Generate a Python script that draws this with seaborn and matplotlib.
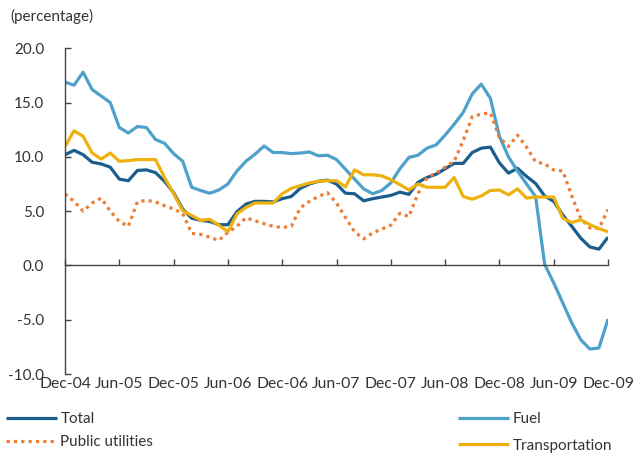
import numpy as np
import pandas as pd
import matplotlib
matplotlib.use("Agg")
import matplotlib.pyplot as plt
import seaborn as sns

# ---------------- data ----------------
tick_labels = ["Dec-04", "Jun-05", "Dec-05", "Jun-06", "Dec-06", "Jun-07",
               "Dec-07", "Jun-08", "Dec-08", "Jun-09", "Dec-09"]
months = list(range(61))  # Dec-04 .. Dec-09, monthly

total = [10.2, 10.6, 10.2, 9.5, 9.35, 9.05, 7.95, 7.8, 8.75, 8.8, 8.55, 7.75,
         6.7, 5.2, 4.35, 4.15, 4.05, 3.75, 3.75, 4.95, 5.65, 5.9, 5.9, 5.85,
         6.15, 6.35, 7.1, 7.5, 7.75, 7.85, 7.5, 6.65, 6.6, 5.95, 6.15, 6.3,
         6.45, 6.75, 6.55, 7.65, 8.1, 8.4, 8.9, 9.4, 9.4, 10.4, 10.8, 10.9,
         9.45, 8.5, 8.95, 8.2, 7.55, 6.4, 5.9, 4.65, 3.6, 2.5, 1.7, 1.5, 2.6]

fuel = [16.9, 16.6, 17.8, 16.2, 15.6, 15.0, 12.7, 12.2, 12.8, 12.7, 11.6, 11.25,
        10.3, 9.6, 7.2, 6.9, 6.65, 6.95, 7.5, 8.7, 9.6, 10.25, 11.0, 10.4,
        10.4, 10.3, 10.35, 10.45, 10.1, 10.15, 9.75, 8.85, 7.95, 7.05, 6.6, 6.9,
        7.6, 8.9, 9.95, 10.15, 10.8, 11.1, 12.0, 13.0, 14.1, 15.8, 16.7, 15.4,
        11.9, 10.0, 8.7, 7.5, 6.35, 0.1, -1.6, -3.45, -5.3, -6.85, -7.7, -7.6, -4.95]

public_utilities = [6.6, 5.9, 5.0, 5.75, 6.2, 5.0, 4.05, 3.6, 5.85, 6.0, 5.85, 5.5,
                    5.2, 4.8, 2.95, 2.85, 2.6, 2.3, 3.05, 3.6, 4.4, 4.1, 3.85, 3.6,
                    3.5, 3.6, 5.3, 5.9, 6.35, 6.7, 5.75, 4.4, 3.1, 2.45, 3.0, 3.35,
                    3.7, 4.8, 4.5, 6.6, 8.1, 8.5, 9.05, 9.6, 11.5, 13.7, 13.95, 14.05,
                    11.8, 10.95, 12.0, 10.9, 9.55, 9.35, 8.8, 8.7, 6.4, 4.3, 3.45, 3.4, 5.15]

transportation = [10.95, 12.4, 11.9, 10.35, 9.8, 10.35, 9.6, 9.65, 9.75, 9.75, 9.75, 8.1,
                  6.6, 5.05, 4.6, 4.15, 4.25, 3.7, 3.1, 4.75, 5.35, 5.75, 5.75, 5.75,
                  6.6, 7.1, 7.35, 7.6, 7.75, 7.8, 7.8, 7.25, 8.8, 8.35, 8.35, 8.25,
                  7.9, 7.45, 6.95, 7.5, 7.2, 7.2, 7.2, 8.1, 6.35, 6.1, 6.4, 6.9,
                  6.95, 6.5, 7.05, 6.2, 6.3, 6.3, 6.3, 4.35, 3.95, 4.2, 3.75, 3.4, 3.1]

series_names = ["Total", "Fuel", "Public utilities", "Transportation"]
series_values = [total, fuel, public_utilities, transportation]
colors = {"Total": "#1b5e8e", "Fuel": "#4ea1c9",
          "Public utilities": "#ee7d33", "Transportation": "#eeb10d"}
styles = {"Total": "-", "Fuel": "-", "Public utilities": (0, (1, 1.3)),
          "Transportation": "-"}

df = pd.concat([pd.DataFrame({"month": months, "value": v, "series": n})
                for n, v in zip(series_names, series_values)], ignore_index=True)

# ---------------- style ----------------
sns.set_theme(style="white")
plt.rcParams["font.family"] = ["Lato", "DejaVu Sans"]
plt.rcParams["axes.unicode_minus"] = False
text_color = "#333333"
axis_color = "#444444"

fig = plt.figure(figsize=(6.35, 4.53), dpi=100)
ax = fig.add_axes([65 / 635, 1 - 374 / 453, (608 - 65) / 635, (374 - 48.3) / 453])

handles = {}
for name in series_names:
    sub = df[df["series"] == name]
    sns.lineplot(data=sub, x="month", y="value", ax=ax, color=colors[name],
                 linewidth=2.3, linestyle=styles[name], label=name, legend=False,
                 solid_capstyle="butt", dash_capstyle="butt")
    handles[name] = ax.lines[-1]

ax.set_xlim(0, 60)
ax.set_ylim(-10, 20)
ax.set_xlabel("")
ax.set_ylabel("")

ax.set_yticks([-10, -5, 0, 5, 10, 15, 20])
ax.set_yticklabels(["-10.0", "-5.0", "0.0", "5.0", "10.0", "15.0", "20.0"])
ax.set_xticks(list(range(0, 61, 6)))
ax.set_xticklabels(tick_labels)

for s in ["top", "right"]:
    ax.spines[s].set_visible(False)
ax.spines["left"].set_color(axis_color)
ax.spines["left"].set_linewidth(1.0)
ax.spines["bottom"].set_position(("data", 0))
ax.spines["bottom"].set_color(axis_color)
ax.spines["bottom"].set_linewidth(1.0)

ax.tick_params(axis="y", direction="in", length=4, width=1.0, color=axis_color,
               labelsize=11, labelcolor=text_color, pad=15, left=True)
ax.tick_params(axis="x", direction="in", length=4, width=1.0, color=axis_color,
               labelsize=11.3, labelcolor=text_color, pad=80, bottom=True)

fig.text(10 / 635, 1 - 16 / 453, "(percentage)", fontsize=11, color=text_color,
         va="center", ha="left")

# legends (fig.legend registers each legend with the figure)
prop = {"family": ["Lato", "DejaVu Sans"], "weight": "normal", "size": 11}
fig.legend(handles=[handles["Total"], handles["Public utilities"]],
           labels=["Total", "Public utilities"],
           loc="upper left", bbox_to_anchor=(0 / 635, 1 - 406 / 453),
           frameon=False, prop=prop, handlelength=3.3, handletextpad=0.25,
           labelspacing=0.58, borderaxespad=0, labelcolor=text_color)
fig.legend(handles=[handles["Fuel"], handles["Transportation"]],
           labels=["Fuel", "Transportation"],
           loc="upper left", bbox_to_anchor=(452 / 635, 1 - 406 / 453),
           frameon=False, prop=prop, handlelength=3.3, handletextpad=0.25,
           labelspacing=0.82, borderaxespad=0, labelcolor=text_color)

fig.savefig("out.png", dpi=100, facecolor="white")
